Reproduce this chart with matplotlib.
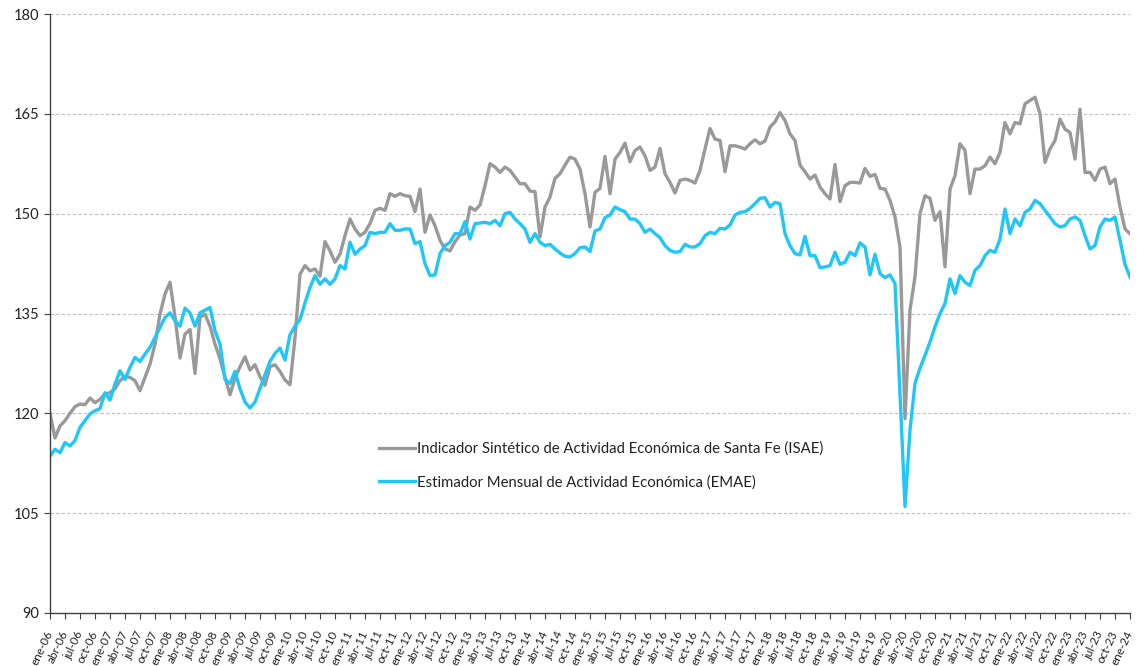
import matplotlib
matplotlib.use("Agg")
import matplotlib.pyplot as plt
import numpy as np

plt.rcParams['font.family'] = ['Lato', 'DejaVu Sans']

# Monthly series, ene-06 .. ene-24 (217 months)
isae = [
    120.0, 116.3, 118.1, 118.9, 120.0, 121.0, 121.4, 121.3, 122.3, 121.6, 122.1, 122.9,
    123.1, 123.7, 124.9, 125.5, 125.4, 124.9, 123.4, 125.4, 127.4, 130.4, 134.9, 137.9,
    139.7, 134.5, 128.3, 131.9, 132.6, 126.0, 134.4, 134.9, 133.1, 130.4, 128.2, 125.4,
    122.8, 125.3, 127.0, 128.5, 126.5, 127.3, 125.5, 124.2, 127.0, 127.3, 126.3, 125.0,
    124.3, 131.3, 140.9, 142.2, 141.4, 141.7, 140.6, 145.8, 144.4, 142.7, 143.9, 146.7,
    149.2, 147.7, 146.7, 147.2, 148.5, 150.5, 150.8, 150.5, 153.0, 152.6, 153.0, 152.7,
    152.6, 150.3, 153.7, 147.2, 149.8, 148.2, 146.0, 144.7, 144.4, 145.8, 146.8, 147.0,
    151.0, 150.5, 151.3, 154.2, 157.5, 157.0, 156.2, 157.0, 156.5, 155.5, 154.5, 154.5,
    153.4, 153.3, 146.5, 151.0, 152.5, 155.3, 156.0, 157.3, 158.5, 158.2, 156.7, 153.0,
    148.0, 153.2, 153.8, 158.6, 153.0, 158.2, 159.2, 160.6, 157.8, 159.5, 160.0, 158.7,
    156.5, 157.0, 159.8, 156.0, 154.7, 153.1, 155.0, 155.2, 155.0, 154.6, 156.5, 159.7,
    162.8, 161.2, 161.0, 156.3, 160.2, 160.2, 160.0, 159.7, 160.5, 161.1, 160.5, 160.9,
    163.0, 163.8, 165.2, 164.0, 162.0, 161.0, 157.3, 156.3, 155.2, 155.8, 154.0, 153.0,
    152.2, 157.4, 151.8, 154.2, 154.7, 154.7, 154.6, 156.8, 155.6, 155.9, 153.8, 153.7,
    152.0, 149.5, 145.0, 119.2, 135.5, 140.5, 150.0, 152.7, 152.3, 149.0, 150.3, 142.0,
    153.7, 155.7, 160.5, 159.5, 153.0, 156.7, 156.7, 157.2, 158.5, 157.5, 159.2, 163.7,
    162.0, 163.7, 163.5, 166.5, 167.0, 167.5, 165.0, 157.7, 159.7, 161.0, 164.2, 162.7,
    162.2, 158.2, 165.7, 156.2, 156.2, 155.0, 156.7, 157.0, 154.5, 155.2, 151.0, 147.7,
    147.0,
]

emae = [
    113.6, 114.6, 114.1, 115.6, 115.1, 115.9, 117.9, 118.9, 119.9, 120.4, 120.7, 123.1,
    122.0, 124.4, 126.4, 125.1, 126.9, 128.4, 127.8, 128.9, 129.9, 131.4, 132.9, 134.4,
    135.1, 133.9, 133.1, 135.8, 135.1, 133.1, 135.1, 135.5, 135.9, 132.4, 130.4, 125.1,
    124.5, 126.3, 123.7, 121.7, 120.8, 121.7, 123.7, 125.8, 127.8, 129.0, 129.8, 128.0,
    131.8, 133.1, 134.1, 136.6, 138.9, 140.7, 139.4, 140.2, 139.4, 140.2, 142.2, 141.7,
    145.7, 143.9, 144.7, 145.2, 147.2, 147.0, 147.2, 147.2, 148.5, 147.5, 147.5, 147.7,
    147.7, 145.5, 145.8, 142.5, 140.7, 140.8, 144.0, 145.2, 145.7, 147.0, 147.0, 148.8,
    146.2, 148.5, 148.6, 148.7, 148.5, 149.0, 148.2, 150.0, 150.2, 149.2, 148.5, 147.7,
    145.7, 147.0, 145.7, 145.2, 145.4, 144.7, 144.1, 143.6, 143.5, 144.0, 144.9, 145.0,
    144.3, 147.4, 147.7, 149.4, 149.8, 151.0, 150.6, 150.3, 149.2, 149.2, 148.5, 147.2,
    147.7, 147.0, 146.4, 145.2, 144.5, 144.2, 144.3, 145.4, 145.0, 145.0, 145.5, 146.7,
    147.2, 147.0, 147.8, 147.7, 148.3, 149.8, 150.2, 150.3, 150.8, 151.5, 152.3, 152.4,
    151.0, 151.7, 151.5, 147.0, 145.2, 144.0, 143.8, 146.6, 143.7, 143.7, 141.9, 142.0,
    142.2, 144.2, 142.4, 142.7, 144.2, 143.7, 145.6, 145.0, 140.8, 143.9, 141.0, 140.4,
    140.8, 139.5, 123.0, 106.0, 117.5, 124.5, 126.8, 128.7, 130.7, 133.0, 135.0, 136.5,
    140.2, 138.0, 140.7, 139.7, 139.2, 141.5, 142.2, 143.7, 144.5, 144.2, 146.2, 150.7,
    147.0, 149.2, 148.2, 150.2, 150.7, 152.0, 151.5, 150.5, 149.5, 148.5, 148.0, 148.2,
    149.2, 149.5, 149.0, 146.7, 144.7, 145.2, 148.0, 149.2, 149.0, 149.5, 146.0, 142.4,
    140.5,
]

month_abbr = ['ene', 'abr', 'jul', 'oct']
years = list(range(6, 25))
tick_labels = [f"{m}-{y:02d}" for y in years for m in month_abbr][:73]

yticks = [90, 105, 120, 135, 150, 165, 180]

label_isae = "Indicador Sintético de Actividad Económica de Santa Fe (ISAE)"
label_emae = "Estimador Mensual de Actividad Económica (EMAE)"

fig = plt.figure(figsize=(11.37, 6.66), dpi=100)
ax = fig.add_axes([50 / 1137, 1 - 613 / 666, (1130 - 50) / 1137, (613 - 14) / 666])

x = np.arange(len(isae))
ax.plot(x, isae, color='#999999', lw=2.4, label=label_isae, solid_joinstyle='round')
ax.plot(x, emae, color='#1EC6FA', lw=2.4, label=label_emae, solid_joinstyle='round')

ax.set_xlim(0, len(isae) - 1)
ax.set_ylim(90, 180)
ax.set_yticks(yticks)
ax.set_yticklabels([str(v) for v in yticks], fontsize=10.5, color='#222222')
ax.yaxis.grid(True, linestyle=(0, (3, 2)), color='#BFBFBF', lw=0.8)
ax.set_axisbelow(True)

tick_pos = np.arange(0, len(isae), 3)
ax.set_xticks(tick_pos)
ax.set_xticklabels(tick_labels, rotation=65, ha='right', va='center',
                   rotation_mode='anchor', fontsize=8.4, color='#222222')
ax.tick_params(axis='x', length=4, width=0.8, color='#404040', pad=9)
ax.tick_params(axis='y', length=4, width=0.8, color='#404040', pad=4)

for s in ['top', 'right']:
    ax.spines[s].set_visible(False)
for s in ['left', 'bottom']:
    ax.spines[s].set_color('#404040')
    ax.spines[s].set_linewidth(1.0)

leg = ax.legend(loc='upper left', bbox_to_anchor=(366 / 1137, 1 - 428 / 666),
                bbox_transform=fig.transFigure, frameon=False, fontsize=10.7,
                handlelength=2.4, handletextpad=0.1, labelspacing=1.3)
for t in leg.get_texts():
    t.set_color('#222222')

fig.savefig('out.png', dpi=100)
